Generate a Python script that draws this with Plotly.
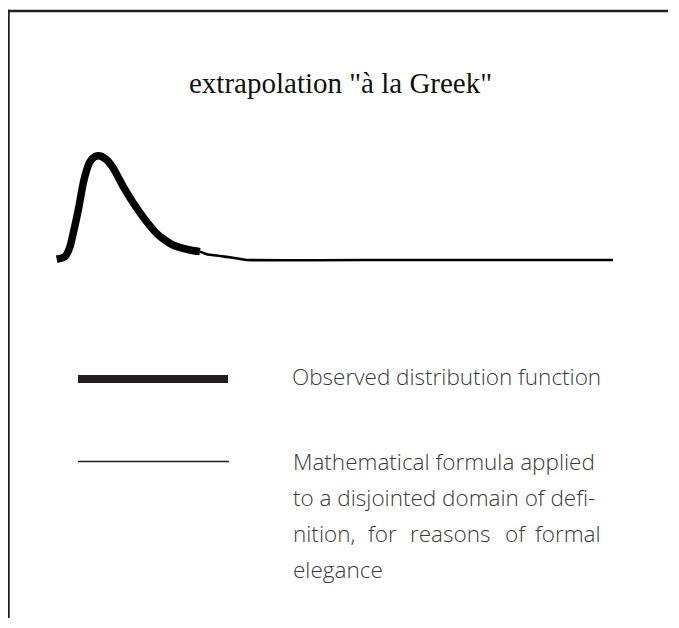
import plotly.graph_objects as go

OFF = 8  # page margin around the figure
W, H = 660, 610

# -------------------------
# Data
# -------------------------
# observed distribution (thick part)
obs_t = [0.13, 1.62, 2.51, 3.11, 4.0, 4.9, 5.51, 6.1, 7.0, 7.9, 9.1, 10.29,
         12.08, 13.88, 16.28, 18.37, 21.0, 24.06, 25.85]
obs_d = [0.007, 0.032, 0.128, 0.26, 0.48, 0.74, 0.865, 0.945, 0.993, 1.0,
         0.962, 0.882, 0.705, 0.548, 0.368, 0.24, 0.144, 0.096, 0.08]

# formula extended over the rest of the domain (thin part)
formula_t = [25.85, 27.06, 29.44, 31.78, 34.24, 60.0, 100.0]
formula_d = [0.08, 0.055, 0.038, 0.022, 0.0, 0.0, 0.0]

title_text = 'extrapolation "à la Greek"'
legend_obs = "Observed distribution function"
legend_formula_lines = ["Mathematical formula applied",
                        "to a disjointed domain of defi-",
                        "nition, for reasons of formal",
                        "elegance"]


def px(x):
    return (x - OFF) / W


def py(y):
    return 1 - (y - OFF) / H


text_grey = "#3a3a3a"
sans = dict(family="'Open Sans', 'Noto Sans', sans-serif", size=22.5,
            color=text_grey, weight=300)

fig = go.Figure()

fig.add_trace(go.Scatter(
    x=obs_t, y=obs_d, mode="lines",
    line=dict(color="black", width=7.5, shape="spline", smoothing=0.6),
    hoverinfo="skip", showlegend=False
))
fig.add_trace(go.Scatter(
    x=formula_t, y=formula_d, mode="lines",
    line=dict(color="black", width=2.6, shape="spline", smoothing=0.3),
    hoverinfo="skip", showlegend=False
))

# ---------------------------
# frame (top + left only) + hand-made legend
# ---------------------------
frame = dict(color="#231f20", width=2.5)
shapes = [
    dict(type="line", xref="paper", yref="paper",
         x0=px(7.5), x1=1.02, y0=py(11), y1=py(11), line=frame),
    dict(type="line", xref="paper", yref="paper",
         x0=px(8.5), x1=px(8.5), y0=py(9.8), y1=-0.02, line=frame),
    dict(type="rect", xref="paper", yref="paper",
         x0=px(78), x1=px(228), y0=py(383), y1=py(375),
         fillcolor="#231f20", line=dict(width=0)),
    dict(type="line", xref="paper", yref="paper",
         x0=px(78), x1=px(229), y0=py(461.5), y1=py(461.5),
         line=dict(color="#231f20", width=1.5)),
]

annotations = [
    dict(text=title_text, xref="paper", yref="paper", x=px(340), y=py(83),
         xanchor="center", yanchor="middle", showarrow=False,
         font=dict(family="'Liberation Serif', serif", size=29, color="#111111")),
    dict(text=legend_obs, xref="paper", yref="paper", x=px(290), y=py(376),
         xanchor="left", yanchor="middle", showarrow=False, font=sans),
]

line_y = [461, 497, 533, 569]
for i, (txt, yy) in enumerate(zip(legend_formula_lines, line_y)):
    if i == 2:
        # justified line: place words one by one
        words = txt.split(" ")
        word_x = [291, 382, 450, 515.5, 603]
        anchors = ["left", "center", "center", "center", "right"]
        for w, xx, a in zip(words, word_x, anchors):
            annotations.append(dict(text=w, xref="paper", yref="paper",
                                    x=px(xx), y=py(yy), xanchor=a,
                                    yanchor="middle", showarrow=False, font=sans))
    else:
        annotations.append(dict(text=txt, xref="paper", yref="paper",
                                x=px(291), y=py(yy), xanchor="left",
                                yanchor="middle", showarrow=False, font=sans))

fig.update_layout(
    width=W, height=H,
    margin=dict(l=0, r=0, t=0, b=0),
    paper_bgcolor="white", plot_bgcolor="white",
    xaxis=dict(domain=[px(40), px(640)], range=[-2.87, 104.85],
               visible=False, fixedrange=True),
    yaxis=dict(domain=[py(300), py(120)], range=[-0.385, 1.346],
               visible=False, fixedrange=True),
    shapes=shapes,
    annotations=annotations,
    showlegend=False,
)

fig.write_html("out.html")
